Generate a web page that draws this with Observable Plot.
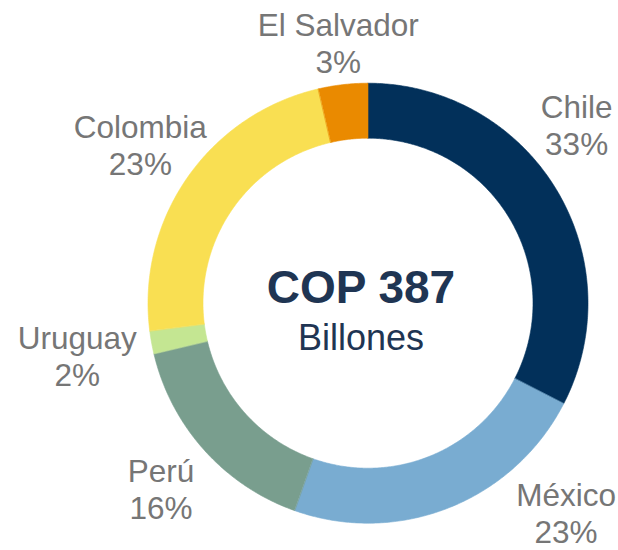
<!DOCTYPE html>
<html>
<head>
<meta charset="utf-8">
<script src="https://cdn.jsdelivr.net/npm/d3@7"></script>
<script src="https://cdn.jsdelivr.net/npm/@observablehq/plot@0.6"></script>
<style>
  html, body { margin: 0; padding: 0; background: #ffffff; }
  #chart svg { display: block; }
</style>
</head>
<body>
<div id="chart"></div>
<script>
// ---- data ----
const countries   = ["Chile", "México", "Perú", "Uruguay", "Colombia", "El Salvador"];
const amounts     = [126, 88.5, 61.5, 6.5, 90.5, 14];        // COP billones (total 387)
const shareLabels = ["33%", "23%", "16%", "2%", "23%", "3%"];
const centerTitle = "COP 387";
const centerSubtitle = "Billones";
const sliceColors = ["#02305a", "#79acd1", "#799e8e", "#c4e692", "#f9df52", "#ea8a00"];

// ---- layout ----
const W = 618, H = 550;
const margin = {left: 147.5, right: 30.5, top: 82.7, bottom: 27.3};
const k = (W - margin.left - margin.right) / 2;   // pixels per unit radius
const innerRatio = 0.75;
const labelFont = 31.5, labelLineHeight = 1.18;
const fontFamily = "Arial, 'Liberation Sans', Helvetica, sans-serif";

// slices (angles clockwise from 12 o'clock)
const total = d3.sum(amounts);
let acc = 0;
const slices = countries.map((name, i) => {
  const a0 = acc / total * 2 * Math.PI;
  acc += amounts[i];
  const a1 = acc / total * 2 * Math.PI;
  return {name, a0, a1, mid: (a0 + a1) / 2, label: name + "\n" + shareLabels[i]};
});

// ring polygons in data units (radius 1 = outer edge)
const ring = slices.flatMap(s => {
  const n = Math.max(2, Math.ceil((s.a1 - s.a0) / (Math.PI / 360)));
  const pts = [];
  for (let j = 0; j <= n; j++) {
    const a = s.a0 + (s.a1 - s.a0) * j / n;
    pts.push({name: s.name, x: Math.sin(a), y: Math.cos(a)});
  }
  for (let j = n; j >= 0; j--) {
    const a = s.a0 + (s.a1 - s.a0) * j / n;
    pts.push({name: s.name, x: innerRatio * Math.sin(a), y: innerRatio * Math.cos(a)});
  }
  return pts;
});

// label placement: outside the ring along the mid-angle, kept inside the frame
const ctx = document.createElement("canvas").getContext("2d");
ctx.font = `${labelFont}px ${fontFamily}`;
const R = k, gap = 12, pad = 6;
const cap = 0.716 * labelFont;
const base1 = 0.32 * labelFont - labelLineHeight * labelFont / 2;
const base2 = 0.32 * labelFont + labelLineHeight * labelFont / 2;
const frame = {
  left: -margin.left - k + pad, right: margin.right + k - pad,
  top: -margin.top - k + pad, bottom: margin.bottom + k - 9
};
function boxDist(x0, x1, y0, y1) {
  const nx = Math.max(x0, Math.min(0, x1));
  const ny = Math.max(y0, Math.min(0, y1));
  return Math.hypot(nx, ny);
}
const labels = slices.map(s => {
  const lines = s.label.split("\n");
  const w = lines.map(l => ctx.measureText(l).width);
  const hw = d3.max(w) / 2;
  const dist = (cx, cy) => Math.min(
    boxDist(cx - w[0] / 2, cx + w[0] / 2, cy + base1 - cap, cy + base1),
    boxDist(cx - w[1] / 2, cx + w[1] / 2, cy + base2 - cap, cy + base2));
  const dx = Math.sin(s.mid), dy = -Math.cos(s.mid);
  let t = 0;
  while (dist(dx * t, dy * t) < R + gap && t < 1000) t += 0.5;
  let cx = dx * t, cy = dy * t;
  let clampedX = false, clampedY = false;
  if (cx + hw > frame.right) { cx = frame.right - hw; clampedX = true; }
  if (cx - hw < frame.left) { cx = frame.left + hw; clampedX = true; }
  if (cy + base2 > frame.bottom) { cy = frame.bottom - base2; clampedY = true; }
  if (cy + base1 - cap < frame.top) { cy = frame.top - base1 + cap; clampedY = true; }
  if (clampedY) { const sx = Math.sign(cx) || 1; while (dist(cx, cy) < R + gap) cx += sx * 0.5; }
  else if (clampedX) { const sy = Math.sign(cy) || 1; while (dist(cx, cy) < R + gap) cy += sy * 0.5; }
  return {label: s.label, x: cx / k, y: -cy / k};
});

const chart = Plot.plot({
  width: W,
  height: H,
  marginLeft: margin.left,
  marginRight: margin.right,
  marginTop: margin.top,
  marginBottom: margin.bottom,
  x: {domain: [-1, 1], axis: null},
  y: {domain: [-1, 1], axis: null},
  color: {domain: countries, range: sliceColors},
  style: {fontFamily, background: "#ffffff", overflow: "visible"},
  marks: [
    Plot.line(ring, {x: "x", y: "y", z: "name", fill: "name", stroke: "name", strokeWidth: 0.6, curve: "linear-closed"}),
    Plot.text(labels, {x: "x", y: "y", text: "label", fontSize: labelFont, lineHeight: labelLineHeight,
      textAnchor: "middle", lineAnchor: "middle", fill: "#767676"}),
    Plot.text([centerTitle], {frameAnchor: "middle", text: d => d, fontSize: 46, fontWeight: "bold",
      fill: "#1f3553", dx: -7, dy: -15}),
    Plot.text([centerSubtitle], {frameAnchor: "middle", text: d => d, fontSize: 36,
      fill: "#1f3553", dx: -7, dy: 35})
  ]
});
document.getElementById("chart").appendChild(chart);
</script>
</body>
</html>
